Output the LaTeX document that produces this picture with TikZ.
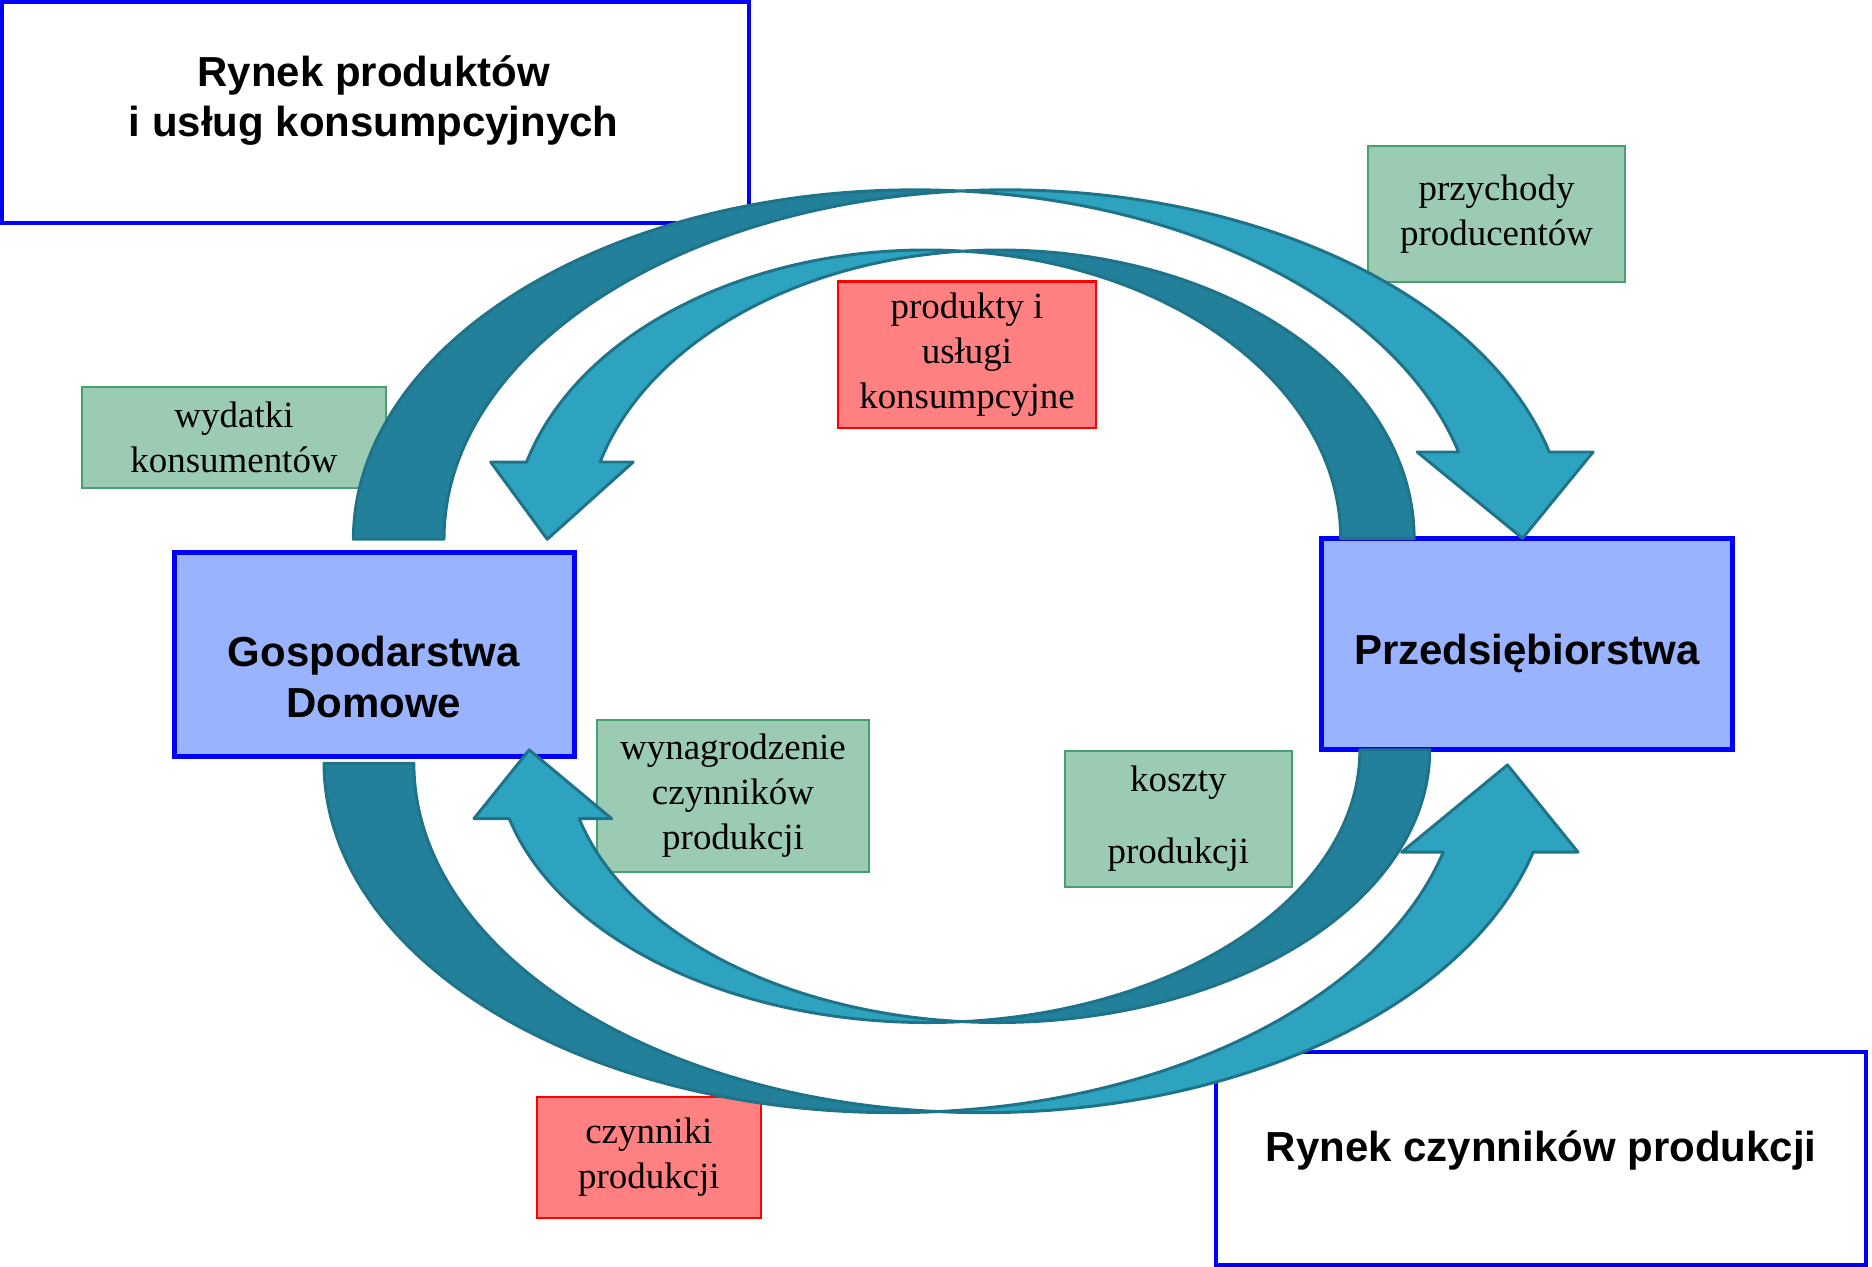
\documentclass[tikz,border=0pt]{standalone}
\usepackage{fontspec}
\setmainfont{Liberation Serif}
\newfontfamily\headfont{Liberation Sans}
\definecolor{rynekblue}{HTML}{0000FF}
\definecolor{sektorfill}{HTML}{99B3FF}
\definecolor{zielony}{HTML}{9BCBB3}
\definecolor{zielonyline}{HTML}{48A070}
\definecolor{czerwony}{HTML}{FF8080}
\definecolor{ciemny}{HTML}{23809A}
\definecolor{jasny}{HTML}{2DA3BF}
\definecolor{obrys}{HTML}{1E7389}

\begin{document}
\begin{tikzpicture}[x=0.01cm,y=-0.01cm]
\tikzstyle{every node}+=[inner sep=0pt]
\tikzstyle{rynek}=[draw=rynekblue, line width=1pt, fill=white]
\tikzstyle{sektor}=[draw=rynekblue, line width=1.2pt, fill=sektorfill]
\tikzstyle{naglowek}=[align=center, font=\headfont\bfseries\fontsize{10}{12}\selectfont]
\tikzstyle{pieniadz}=[draw=zielonyline, line width=0.5pt, fill=zielony, align=center, font=\fontsize{8.8}{10.7}\selectfont]
\tikzstyle{dobro}=[draw=red, line width=0.5pt, fill=czerwony, align=center, font=\fontsize{8.8}{10.7}\selectfont]
\tikzstyle{tyl}=[fill=ciemny, draw=obrys, line width=0.7pt, line join=round]
\tikzstyle{przod}=[fill=jasny, draw=obrys, line width=0.7pt, line join=round]
\useasboundingbox (0,0) rectangle (1568,1061);

% rynki
\node[rynek, minimum width=6.25cm, minimum height=1.85cm] (rp) at (314.5,94.5) {};
\node[naglowek] (rpnapis) at (313,84) {Rynek produktów\\i usług konsumpcyjnych};
\node[rynek, minimum width=5.44cm, minimum height=1.79cm] (rc) at (1291,970.5) {};
\node[naglowek] (rcnapis) at (1291,964) {Rynek czynników produkcji};

% sektory
\node[sektor, minimum width=3.35cm, minimum height=1.71cm] (gd) at (313.5,548.5) {};
\node[naglowek] (gdnapis) at (313,567) {Gospodarstwa\\Domowe};
\node[sektor, minimum width=3.44cm, minimum height=1.77cm] (pr) at (1279,539.5) {};
\node[naglowek] (prnapis) at (1279,547) {Przedsiębiorstwa};

% strumienie
\node[pieniadz, minimum width=2.15cm, minimum height=1.14cm] (pp) at (1253.5,179) {przychody\\producentów};
\node[pieniadz, minimum width=2.54cm, minimum height=0.85cm] (wk) at (196,366.5) {wydatki\\konsumentów};
\node[pieniadz, minimum width=2.28cm, minimum height=1.27cm] (wc) at (614,666.5) {wynagrodzenie\\czynników\\produkcji};
\node[pieniadz, minimum width=1.90cm, minimum height=1.14cm] (kp) at (987,686) {koszty\\[6.4pt]produkcji};
\node[dobro, minimum width=2.16cm, minimum height=1.23cm] (pu) at (810,297.3) {produkty i\\usługi\\konsumpcyjne};
\node[dobro, minimum width=1.87cm, minimum height=1.01cm] (cp) at (543.5,969.5) {czynniki\\produkcji};

% wstegi
\coordinate (s1a) at (766.3,451.7);
\coordinate (s1b) at (842.3,451.7);
\coordinate (s2a) at (837.4,450.9);
\coordinate (s2b) at (775.8,450.9);
\coordinate (s3a) at (748,639.3);
\coordinate (s3b) at (823.3,639.3);
\coordinate (s4a) at (835.5,628);
\coordinate (s4b) at (776.9,628);
\draw[tyl] (s1a) ++(180:470.3 and 292.7) arc[start angle=180,end angle=274.63,x radius=470.3,y radius=292.7] arc[start angle=265.37,end angle=180,x radius=470.3,y radius=292.7] -- cycle;
\draw[przod] (s1b) ++(265.37:470.3 and 292.7) arc[start angle=265.37,end angle=345.54,x radius=470.3,y radius=292.7] -- (1334.4,378.6) -- (1275.3,450.9) -- (1187,378.6) -- (1221.7,378.6) arc[start angle=345.54,end angle=274.63,x radius=470.3,y radius=292.7] -- cycle;
\draw[tyl] (s2a) ++(0:347.1 and 241.5) arc[start angle=0,end angle=-95.09,x radius=347.1,y radius=241.5] arc[start angle=-84.91,end angle=0,x radius=347.1,y radius=241.5] -- cycle;
\draw[przod] (s2b) ++(-84.91:347.1 and 241.5) arc[start angle=-84.91,end angle=-164.66,x radius=347.1,y radius=241.5] -- (411,387) -- (458.4,451.7) -- (530.4,387) -- (502.7,387) arc[start angle=-164.66,end angle=-95.09,x radius=347.1,y radius=241.5] -- cycle;
\draw[tyl] (s3a) ++(180:476.6 and 292.7) arc[start angle=180,end angle=85.47,x radius=476.6,y radius=292.7] arc[start angle=94.53,end angle=180,x radius=476.6,y radius=292.7] -- cycle;
\draw[przod] (s3b) ++(94.53:476.6 and 292.7) arc[start angle=94.53,end angle=14.75,x radius=476.6,y radius=292.7] -- (1321.8,713.8) -- (1262.7,640.7) -- (1174,713.8) -- (1208.9,713.8) arc[start angle=14.75,end angle=85.47,x radius=476.6,y radius=292.7] -- cycle;
\draw[tyl] (s4a) ++(0:362.1 and 228.5) arc[start angle=0,end angle=94.64,x radius=362.1,y radius=228.5] arc[start angle=85.36,end angle=0,x radius=362.1,y radius=228.5] -- cycle;
\draw[przod] (s4b) ++(85.36:362.1 and 228.5) arc[start angle=85.36,end angle=165.37,x radius=362.1,y radius=228.5] -- (397,685.7) -- (443.3,628.1) -- (512.3,685.7) -- (485.1,685.7) arc[start angle=165.37,end angle=94.64,x radius=362.1,y radius=228.5] -- cycle;
\end{tikzpicture}
\end{document}
